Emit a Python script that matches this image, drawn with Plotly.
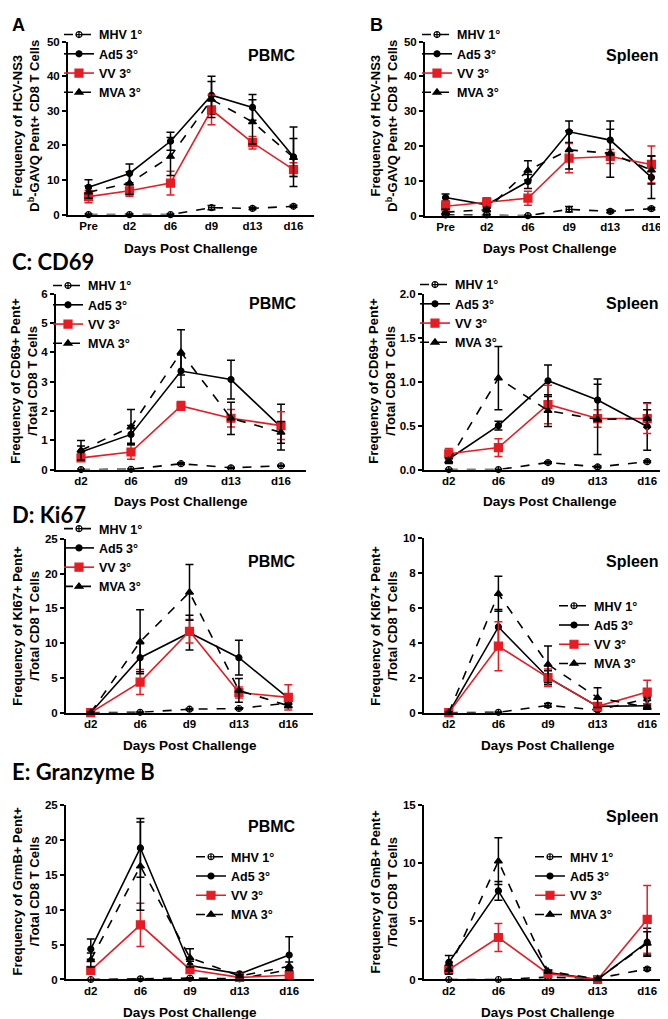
import plotly.graph_objects as go

W, H = 668, 1019

days_ns3 = ["Pre", "d2", "d6", "d9", "d13", "d16"]
days = ["d2", "d6", "d9", "d13", "d16"]
groups = ["MHV 1°", "Ad5 3°", "VV 3°", "MVA 3°"]

# ---- A: HCV-NS3 pentamer, PBMC ----
a_mhv = [0, 0, 0, 2.0, 1.8, 2.4]
a_mhv_err = [0.2, 0.2, 0.2, 0.6, 0.3, 0.3]
a_ad5 = [7.9, 11.9, 21.2, 34.5, 31.0, 16.7]
a_ad5_err = [2.2, 2.7, 2.6, 5.5, 3.7, 8.6]
a_vv = [5.2, 6.9, 9.1, 30.3, 20.8, 13.0]
a_vv_err = [1.8, 1.6, 3.4, 4.3, 1.8, 2.0]
a_mva = [6.5, 9.1, 16.8, 33.3, 26.8, 16.5]
a_mva_err = [1.8, 3.3, 5.5, 5.2, 6.4, 5.5]

# ---- B: HCV-NS3 pentamer, Spleen ----
b_mhv = [0.2, 0.2, 0, 1.8, 1.2, 2.0]
b_mhv_err = [0.2, 0.2, 0.1, 0.8, 0.4, 0.3]
b_ad5 = [5.2, 3.1, 9.8, 24.1, 21.7, 11.0]
b_ad5_err = [1.0, 1.0, 2.0, 3.1, 5.5, 6.1]
b_vv = [2.7, 3.9, 5.0, 16.5, 17.0, 14.7]
b_vv_err = [1.5, 1.2, 2.0, 4.2, 2.0, 5.3]
b_mva = [1.0, 1.7, 13.0, 18.9, 17.9, 13.1]
b_mva_err = [0.8, 0.6, 2.8, 5.5, 6.9, 4.0]

# ---- C: CD69, PBMC ----
cp_mhv = [0, 0.01, 0.2, 0.06, 0.13]
cp_mhv_err = [0.01, 0.01, 0.03, 0.02, 0.02]
cp_ad5 = [0.6, 1.2, 3.36, 3.07, 1.45]
cp_ad5_err = [0.2, 0.3, 0.55, 0.66, 0.78]
cp_vv = [0.4, 0.6, 2.17, 1.75, 1.5]
cp_vv_err = [0.1, 0.25, 0.15, 0.3, 0.47]
cp_mva = [0.66, 1.45, 4.0, 1.75, 1.27]
cp_mva_err = [0.33, 0.6, 0.77, 0.55, 0.37]

# ---- C: CD69, Spleen ----
cs_mhv = [0, 0, 0.08, 0.03, 0.09]
cs_mhv_err = [0.005, 0.005, 0.01, 0.01, 0.01]
cs_ad5 = [0.12, 0.5, 1.01, 0.79, 0.49]
cs_ad5_err = [0.03, 0.05, 0.18, 0.24, 0.27]
cs_vv = [0.18, 0.25, 0.74, 0.58, 0.58]
cs_vv_err = [0.06, 0.1, 0.22, 0.1, 0.17]
cs_mva = [0.1, 1.04, 0.67, 0.57, 0.58]
cs_mva_err = [0.03, 0.36, 0.18, 0.4, 0.1]

# ---- D: Ki67, PBMC ----
dp_mhv = [0, 0.05, 0.5, 0.6, 1.4]
dp_mhv_err = [0, 0.05, 0.1, 0.1, 0.2]
dp_ad5 = [0, 7.9, 11.5, 7.9, 2.1]
dp_ad5_err = [0.1, 2.0, 2.5, 2.5, 0.5]
dp_vv = [0, 4.4, 11.7, 2.9, 2.2]
dp_vv_err = [0.1, 1.8, 1.7, 0.8, 1.8]
dp_mva = [0, 10.2, 17.3, 3.2, 1.0]
dp_mva_err = [0.1, 4.6, 4.0, 1.7, 0.3]

# ---- D: Ki67, Spleen ----
ds_mhv = [0, 0.02, 0.42, 0.15, 0.8]
ds_mhv_err = [0, 0.02, 0.1, 0.05, 0.1]
ds_ad5 = [0, 4.9, 2.0, 0.36, 0.4]
ds_ad5_err = [0.05, 1.0, 0.4, 0.15, 0.1]
ds_vv = [0, 3.8, 2.0, 0.36, 1.18]
ds_vv_err = [0.05, 1.4, 0.5, 0.2, 0.67]
ds_mva = [0, 6.8, 2.76, 0.86, 0.3]
ds_mva_err = [0.05, 1.0, 1.05, 0.57, 0.1]

# ---- E: Granzyme B, PBMC ----
ep_mhv = [0, 0.1, 0.2, 0.1, 1.4]
ep_mhv_err = [0, 0.05, 0.05, 0.05, 0.2]
ep_ad5 = [4.35, 18.8, 2.0, 0.8, 3.5]
ep_ad5_err = [1.45, 4.2, 0.6, 0.2, 2.6]
ep_vv = [1.3, 7.8, 1.4, 0.3, 0.6]
ep_vv_err = [0.5, 3.1, 0.5, 0.1, 0.3]
ep_mva = [2.8, 16.2, 3.1, 0.5, 1.9]
ep_mva_err = [1.0, 6.3, 1.3, 0.2, 0.6]

# ---- E: Granzyme B, Spleen ----
es_mhv = [0, 0, 0.2, 0.1, 0.9]
es_mhv_err = [0, 0, 0.05, 0.05, 0.1]
es_ad5 = [1.46, 7.6, 0.6, 0.0, 3.2]
es_ad5_err = [0.6, 0.8, 0.1, 0.05, 1.2]
es_vv = [0.85, 3.6, 0.5, 0.0, 5.15]
es_vv_err = [0.3, 1.2, 0.1, 0.05, 2.9]
es_mva = [0.85, 10.15, 0.7, 0.05, 3.1]
es_mva_err = [0.4, 2.0, 0.1, 0.05, 1.0]

RED = "#e51c23"
FONT = "Liberation Sans, Arial, sans-serif"
styles = [
    dict(color="black", dash="dash", symbol="circle-cross-open", size=6),
    dict(color="black", dash="solid", symbol="circle", size=6),
    dict(color=RED, dash="solid", symbol="square", size=8),
    dict(color="black", dash="dash", symbol="triangle-up", size=7),
]

ytitle_ns3 = "Frequency of HCV-NS3<br>D<sup>b</sup>-GAVQ Pent+ CD8 T Cells"
ytitle_cd69 = "Frequency of CD69+ Pent+<br>/Total CD8 T Cells"
ytitle_ki67 = "Frequency of KI67+ Pent+<br>/Total CD8 T Cells"
ytitle_grmb = "Frequency of GrmB+ Pent+<br>/Total CD8 T Cells"
ytitle_gmb = "Frequency of GmB+ Pent+<br>/Total CD8 T Cells"

panels = [
    dict(cats=days_ns3, means=[a_mhv, a_ad5, a_vv, a_mva], errs=[a_mhv_err, a_ad5_err, a_vv_err, a_mva_err],
         ymax=50, dtick=10, fmt="d", ytitle=ytitle_ns3, tissue="PBMC",
         box=(60, 306, 28, 203), leg=(96, 34), lab=(264, 42), xt=(183, 237), yt=(18, 113)),
    dict(cats=days_ns3, means=[b_mhv, b_ad5, b_vv, b_mva], errs=[b_mhv_err, b_ad5_err, b_vv_err, b_mva_err],
         ymax=50, dtick=10, fmt="d", ytitle=ytitle_ns3, tissue="Spleen",
         box=(417, 664, 28, 204), leg=(454, 34), lab=(624, 42), xt=(542, 237), yt=(376, 113)),
    dict(cats=days, means=[cp_mhv, cp_ad5, cp_vv, cp_mva], errs=[cp_mhv_err, cp_ad5_err, cp_vv_err, cp_mva_err],
         ymax=6, dtick=1, fmt="d", ytitle=ytitle_cd69, tissue="PBMC",
         box=(48, 298, 283, 461), leg=(85, 288), lab=(265, 293), xt=(173, 493), yt=(16, 371)),
    dict(cats=days, means=[cs_mhv, cs_ad5, cs_vv, cs_mva], errs=[cs_mhv_err, cs_ad5_err, cs_vv_err, cs_mva_err],
         ymax=2, dtick=0.5, fmt=".1f", ytitle=ytitle_cd69, tissue="Spleen",
         box=(416, 664, 283, 461), leg=(452, 287), lab=(624, 293), xt=(542, 493), yt=(374, 371)),
    dict(cats=days, means=[dp_mhv, dp_ad5, dp_vv, dp_mva], errs=[dp_mhv_err, dp_ad5_err, dp_vv_err, dp_mva_err],
         ymax=25, dtick=5, fmt="d", ytitle=ytitle_ki67, tissue="PBMC",
         box=(58, 305, 531, 707), leg=(96, 534), lab=(264, 554), xt=(182, 740), yt=(18, 619)),
    dict(cats=days, means=[ds_mhv, ds_ad5, ds_vv, ds_mva], errs=[ds_mhv_err, ds_ad5_err, ds_vv_err, ds_mva_err],
         ymax=10, dtick=2, fmt="d", ytitle=ytitle_ki67, tissue="Spleen",
         box=(416, 664, 530, 707), leg=(591, 612), lab=(624, 554), xt=(540, 740), yt=(376, 619)),
    dict(cats=days, means=[ep_mhv, ep_ad5, ep_vv, ep_mva], errs=[ep_mhv_err, ep_ad5_err, ep_vv_err, ep_mva_err],
         ymax=25, dtick=5, fmt="d", ytitle=ytitle_grmb, tissue="PBMC",
         box=(58, 306, 800, 977), leg=(228, 866), lab=(264, 822), xt=(182, 1010), yt=(18, 888)),
    dict(cats=days, means=[es_mhv, es_ad5, es_vv, es_mva], errs=[es_mhv_err, es_ad5_err, es_vv_err, es_mva_err],
         ymax=15, dtick=5, fmt="d", ytitle=ytitle_gmb, tissue="Spleen",
         box=(416, 664, 800, 977), leg=(567, 866), lab=(624, 812), xt=(540, 1010), yt=(376, 888)),
]

fig = go.Figure()
layout = dict(width=W, height=H, margin=dict(l=0, r=0, t=0, b=0),
              plot_bgcolor="white", paper_bgcolor="white",
              font=dict(family=FONT, color="black"), annotations=[])

def px(x):
    return x / W

def py(y):
    return 1 - y / H

for i, p in enumerate(panels, start=1):
    sfx = "" if i == 1 else str(i)
    legname = "legend" + sfx
    for g, (name, st) in enumerate(zip(groups, styles)):
        fig.add_trace(go.Scatter(
            x=p["cats"], y=p["means"][g], name=name, mode="lines+markers",
            xaxis="x" + sfx, yaxis="y" + sfx, legend=legname, cliponaxis=False,
            line=dict(color=st["color"], width=1.6, dash=st["dash"]),
            marker=dict(symbol=st["symbol"], size=st["size"], color=st["color"],
                        line=dict(color=st["color"], width=1.2)),
            error_y=dict(type="data", array=p["errs"][g], visible=True,
                         color=st["color"], thickness=1.5, width=4),
        ))
    x0, x1, y0, y1 = p["box"]
    n = len(p["cats"])
    layout["xaxis" + sfx] = dict(
        domain=[px(x0), px(x1)], anchor="y" + sfx, range=[-0.5, n - 0.5],
        showline=True, linecolor="black", linewidth=2, showgrid=False, zeroline=False,
        ticks="", tickfont=dict(family=FONT, size=11.5, weight="bold"), fixedrange=True)
    layout["yaxis" + sfx] = dict(
        domain=[py(y1), py(y0)], anchor="x" + sfx, range=[0, p["ymax"]], dtick=p["dtick"],
        tickformat=p["fmt"], showline=True, linecolor="black", linewidth=2,
        showgrid=False, zeroline=False, ticks="outside", ticklen=4, tickwidth=1.5,
        tickcolor="black", tickfont=dict(family=FONT, size=11.5, weight="bold"))
    lx, ly = p["leg"]
    layout[legname] = dict(
        x=px(lx - 45), y=py(ly - 28), xanchor="left", yanchor="top",
        bgcolor="rgba(0,0,0,0)", font=dict(family=FONT, size=12.5, weight="bold"),
        itemwidth=30, tracegroupgap=0)
    layout["annotations"].append(dict(
        text=p["tissue"], x=px(p["lab"][0]), y=py(p["lab"][1]), xref="paper", yref="paper",
        showarrow=False, xanchor="center", yanchor="middle",
        font=dict(family=FONT, size=16, weight="bold")))
    layout["annotations"].append(dict(
        text="Days Post Challenge", x=px(p["xt"][0]), y=py(p["xt"][1]), xref="paper", yref="paper",
        showarrow=False, xanchor="center", yanchor="middle",
        font=dict(family=FONT, size=13.5, weight="bold")))
    layout["annotations"].append(dict(
        text=p["ytitle"], x=px(p["yt"][0]), y=py(p["yt"][1]), xref="paper", yref="paper",
        showarrow=False, xanchor="center", yanchor="middle", textangle=-90,
        font=dict(family=FONT, size=13, weight="bold")))

section_titles = [("A", 2, 11, FONT, 18), ("B", 360, 11, FONT, 18)]
for t, x, y, f, s in section_titles:
    layout["annotations"].append(dict(
        text=t, x=px(x), y=py(y), xref="paper", yref="paper", showarrow=False,
        xanchor="left", yanchor="middle", font=dict(family=f, size=s, weight="bold")))

heads = [("C: CD69", 250), ("D: Ki67", 506), ("E: Granzyme B", 767)]
for t, y in heads:
    layout["annotations"].append(dict(
        text=t, x=px(2), y=py(y), xref="paper", yref="paper", showarrow=False,
        xanchor="left", yanchor="middle", font=dict(family="Lato, Open Sans, sans-serif", size=22, weight="bold")))

fig.update_layout(**layout)
fig.write_html("out.html")
